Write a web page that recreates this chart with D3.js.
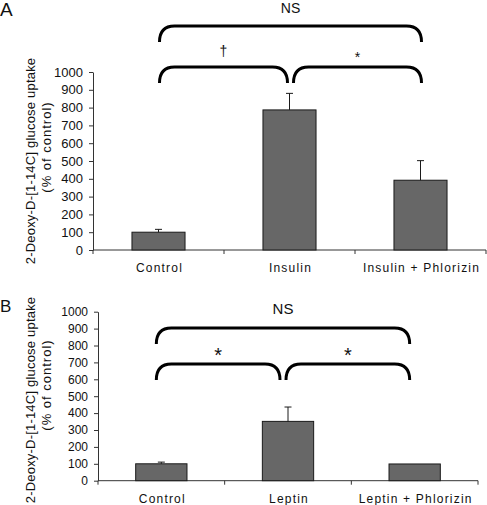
<!DOCTYPE html>
<html>
<head>
<meta charset="utf-8">
<script src="https://cdn.jsdelivr.net/npm/d3@7"></script>
<style>
  html, body { margin: 0; padding: 0; background: #fff; }
  svg { display: block; font-family: "Liberation Sans", Arial, sans-serif; }
</style>
</head>
<body>
<svg id="chart" width="487" height="505"></svg>
<script>
// ---------------- data ----------------
const categoriesA = ["Control", "Insulin", "Insulin + Phlorizin"];
const valuesA = [100, 787, 392];
const errorsA = [16, 93, 110];

const categoriesB = ["Control", "Leptin", "Leptin + Phlorizin"];
const valuesB = [100, 351, 99];
const errorsB = [10, 85, 0];

const yTickValues = [0, 100, 200, 300, 400, 500, 600, 700, 800, 900, 1000];
const yTitleLine1 = "2-Deoxy-D-[1-14C] glucose uptake";
const yTitleLine2 = "(% of control)";

const comparisonsA = [
  { from: 0, to: 2, label: "NS", tier: "upper" },
  { from: 0, to: 1, label: "\u2020", tier: "lower" },
  { from: 1, to: 2, label: "*", tier: "lower" }
];
const comparisonsB = [
  { from: 0, to: 2, label: "NS", tier: "upper" },
  { from: 0, to: 1, label: "*", tier: "lower" },
  { from: 1, to: 2, label: "*", tier: "lower" }
];

// ---------------- layout ----------------
const panels = [
  {
    letter: "A", letterX: 0, letterY: 16, letterSize: 19,
    categories: categoriesA, values: valuesA, errors: errorsA, comparisons: comparisonsA,
    x0: 93, x1: 486, yTop: 72, yBottom: 250,
    tickFont: 13, catY: 272,
    title1Y: 161, title2Y: 147, title1X: 30, title2X: 46,
    braceUpper: 26, braceLower: 67, braceShift: 1,
    nsSize: 14, nsY: 13, symSize: { "\u2020": 14, "*": 14 }, symY: { "\u2020": 56, "*": 62 }
  },
  {
    letter: "B", letterX: 0, letterY: 312, letterSize: 17,
    categories: categoriesB, values: valuesB, errors: errorsB, comparisons: comparisonsB,
    x0: 98, x1: 478, yTop: 311.7, yBottom: 480.7,
    tickFont: 12, catY: 503,
    title1Y: 400, title2Y: 385, title1X: 30, title2X: 46,
    braceUpper: 328, braceLower: 364, braceShift: -5,
    nsSize: 15, nsY: 314, symSize: { "*": 20 }, symY: { "*": 362 }
  }
];

const svg = d3.select("#chart");
const axisColor = "#333";

panels.forEach(p => {
  const g = svg.append("g");

  const x = d3.scaleBand().domain(p.categories).range([p.x0, p.x1]).paddingInner(0).paddingOuter(0);
  const y = d3.scaleLinear().domain([0, 1000]).range([p.yBottom, p.yTop]);
  const barW = x.bandwidth() * 0.405;
  const cx = i => x(p.categories[i]) + x.bandwidth() / 2;

  // panel letter
  g.append("text").attr("x", p.letterX).attr("y", p.letterY)
    .attr("font-size", p.letterSize).attr("fill", "#111").text(p.letter);

  // y axis
  const yAxis = d3.axisLeft(y).tickValues(yTickValues).tickFormat(d3.format("d"))
    .tickSize(4).tickPadding(6).tickSizeOuter(0);
  const ya = g.append("g").attr("transform", `translate(${p.x0},0)`).call(yAxis);
  ya.select(".domain").attr("stroke", axisColor);
  ya.selectAll(".tick line").attr("stroke", axisColor);
  ya.selectAll(".tick text").attr("font-size", p.tickFont).attr("fill", "#111")
    .attr("font-family", "'Liberation Sans', Arial, sans-serif");

  // x axis line with ticks at category boundaries
  g.append("line").attr("x1", p.x0).attr("x2", p.x1).attr("y1", p.yBottom).attr("y2", p.yBottom)
    .attr("stroke", axisColor);
  const boundaries = p.categories.map(c => x(c)).concat([p.x1]);
  g.selectAll(".xt").data(boundaries).enter().append("line")
    .attr("x1", d => d).attr("x2", d => d).attr("y1", p.yBottom).attr("y2", p.yBottom + 4)
    .attr("stroke", axisColor);

  // category labels
  g.selectAll(".cat").data(p.categories).enter().append("text")
    .attr("x", d => x(d) + x.bandwidth() / 2 + 1)
    .attr("y", p.catY).attr("text-anchor", "middle")
    .attr("font-size", 12).attr("letter-spacing", "1.2px").attr("fill", "#111")
    .text(d => d);

  // y title
  g.append("text").attr("transform", `translate(${p.title1X},${p.title1Y}) rotate(-90)`)
    .attr("text-anchor", "middle").attr("dy", "0.35em").attr("font-size", 13)
    .attr("letter-spacing", "0.2px").attr("fill", "#111").text(yTitleLine1);
  g.append("text").attr("transform", `translate(${p.title2X},${p.title2Y}) rotate(-90)`)
    .attr("text-anchor", "middle").attr("dy", "0.35em").attr("font-size", 13)
    .attr("letter-spacing", "1px").attr("fill", "#111").text(yTitleLine2);

  // bars
  const rows = p.categories.map((c, i) => ({ c, v: p.values[i], e: p.errors[i] }));
  g.selectAll(".bar").data(rows).enter().append("rect")
    .attr("x", d => x(d.c) + x.bandwidth() / 2 - barW / 2)
    .attr("y", d => y(d.v))
    .attr("width", barW)
    .attr("height", d => y(0) - y(d.v))
    .attr("fill", "#676767").attr("stroke", "#1a1a1a").attr("stroke-width", 1);

  // error bars
  const eb = g.selectAll(".eb").data(rows.filter(d => d.e > 0)).enter().append("g");
  eb.append("line")
    .attr("x1", d => x(d.c) + x.bandwidth() / 2).attr("x2", d => x(d.c) + x.bandwidth() / 2)
    .attr("y1", d => y(d.v)).attr("y2", d => y(d.v + d.e))
    .attr("stroke", "#1a1a1a");
  eb.append("line")
    .attr("x1", d => x(d.c) + x.bandwidth() / 2 - 3.5).attr("x2", d => x(d.c) + x.bandwidth() / 2 + 3.5)
    .attr("y1", d => y(d.v + d.e)).attr("y2", d => y(d.v + d.e))
    .attr("stroke", "#1a1a1a");

  // braces
  const r = 15, drop = 16;
  p.comparisons.forEach(cmp => {
    const yt = cmp.tier === "upper" ? p.braceUpper : p.braceLower;
    const yb = yt + drop;
    let xl = cx(cmp.from) + p.braceShift;
    let xr = cx(cmp.to) + p.braceShift;
    if (cmp.tier === "lower") {
      if (cmp.from === 1) xl += 3;
      if (cmp.to === 1) xr -= 3;
    }
    const path = `M${xl},${yb} Q${xl},${yt} ${xl + r},${yt} H${xr - r} Q${xr},${yt} ${xr},${yb}`;
    g.append("path").attr("d", path).attr("fill", "none").attr("stroke", "#000").attr("stroke-width", 3);
    const mx = (xl + xr) / 2;
    if (cmp.label === "NS") {
      g.append("text").attr("x", mx).attr("y", p.nsY).attr("text-anchor", "middle")
        .attr("font-size", p.nsSize).attr("fill", "#111").text(cmp.label);
    } else {
      g.append("text").attr("x", mx).attr("y", p.symY[cmp.label]).attr("text-anchor", "middle")
        .attr("font-size", p.symSize[cmp.label]).attr("fill", "#111").text(cmp.label);
    }
  });
});
</script>
</body>
</html>
